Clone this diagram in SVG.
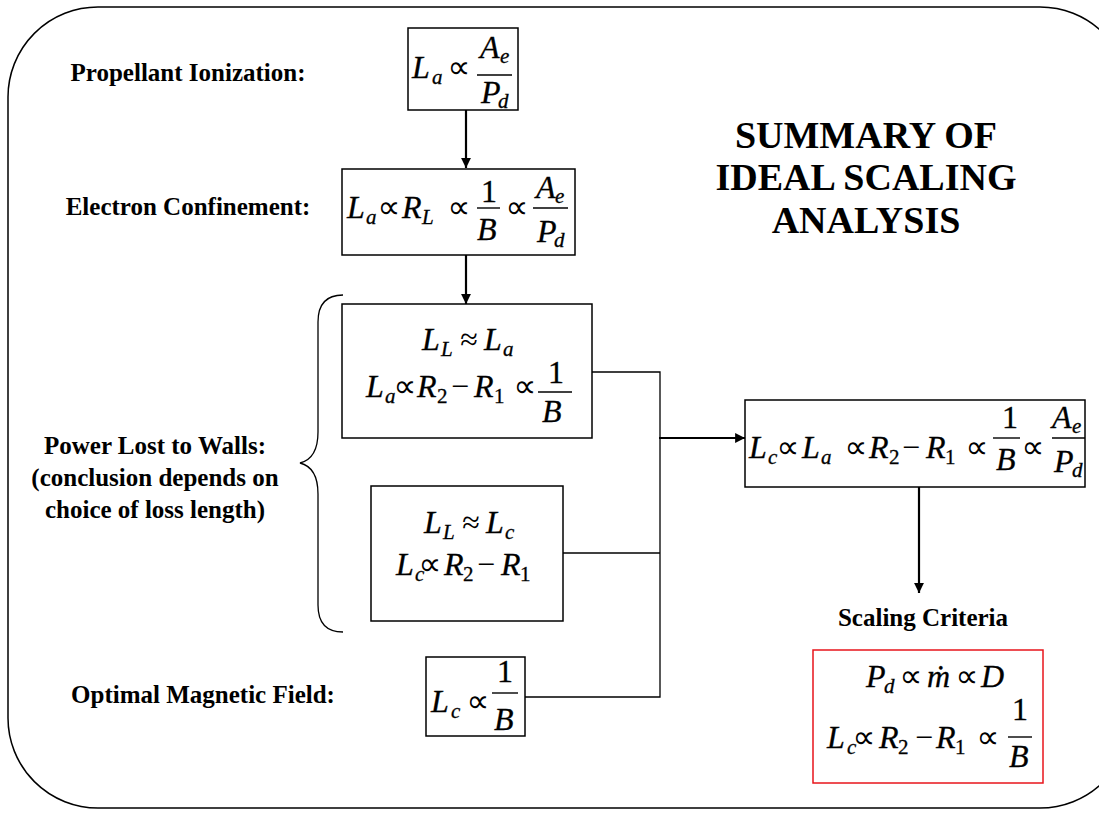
<svg xmlns="http://www.w3.org/2000/svg" width="1099" height="813" viewBox="0 0 1099 813">
<defs>
<marker id="ah" viewBox="0 0 10 10" refX="10" refY="5" markerWidth="4.5" markerHeight="4.5" markerUnits="strokeWidth" orient="auto">
<path d="M0,0 L10,5 L0,10 Z" fill="#000"/>
</marker>
</defs>
<style>
.frame{fill:none;stroke:#000;stroke-width:1.5}
.box{fill:#fff;stroke:#000;stroke-width:1.5}
.red{fill:#fff;stroke:#e8141b;stroke-width:1.5}
.ln{fill:none;stroke:#000;stroke-width:1.3}
.arr{fill:none;stroke:#000;stroke-width:2.2}
.bar{stroke:#000;stroke-width:1.4}
.m{font-family:"Liberation Serif","Times New Roman",serif;font-style:italic;font-size:32px;fill:#000;stroke:#000;stroke-width:0.3}
.s{font-size:21px}
.u{font-style:normal}
.op{font-family:"DejaVu Sans",sans-serif;font-style:normal;font-size:32px;fill:#000;text-anchor:middle}
.sym{font-family:"Liberation Serif","Times New Roman",serif;font-style:normal;font-size:32px;fill:#000;text-anchor:middle}
.lbl{font-family:"Liberation Serif","Times New Roman",serif;font-weight:bold;font-size:25px;fill:#000}
.title{font-family:"Liberation Serif","Times New Roman",serif;font-weight:bold;font-size:38px;fill:#000}
</style>
<rect class="frame" x="8" y="7" width="1122" height="801" rx="90" ry="90"/>

<g id="title">
<text class="title" x="866" y="148" text-anchor="middle">SUMMARY OF</text>
<text class="title" x="866" y="190" text-anchor="middle">IDEAL SCALING</text>
<text class="title" x="866" y="233" text-anchor="middle">ANALYSIS</text>
</g>

<g id="labels">
<text class="lbl" x="188" y="81" text-anchor="middle">Propellant Ionization:</text>
<text class="lbl" x="188" y="215" text-anchor="middle">Electron Confinement:</text>
<text class="lbl" x="155" y="454" text-anchor="middle">Power Lost to Walls:</text>
<text class="lbl" x="155" y="486" text-anchor="middle">(conclusion depends on</text>
<text class="lbl" x="155" y="518" text-anchor="middle">choice of loss length)</text>
<text class="lbl" x="203" y="703" text-anchor="middle">Optimal Magnetic Field:</text>
<text class="lbl" x="923" y="626" text-anchor="middle">Scaling Criteria</text>
</g>

<g id="brace">
<path class="ln" d="M343,295 C325,295 318,305 318,322 L318,432 C318,450 312,460 300,463 C312,466 318,476 318,494 L318,605 C318,622 325,632 343,632"/>
</g>

<g id="connectors">
<line class="arr" x1="466" y1="110" x2="466" y2="168" marker-end="url(#ah)"/>
<line class="arr" x1="466" y1="255" x2="466" y2="304" marker-end="url(#ah)"/>
<polyline class="ln" points="592,372 660,372 660,697 525,697"/>
<line class="ln" x1="563" y1="553" x2="660" y2="553"/>
<line class="arr" x1="659" y1="438" x2="745" y2="438" marker-end="url(#ah)"/>
<line class="arr" x1="919" y1="487" x2="919" y2="593" marker-end="url(#ah)"/>
</g>

<g id="n1">
<rect class="box" x="408" y="28" width="110" height="82"/>
<text class="m"><tspan x="412" y="78">L</tspan><tspan class="s" x="432" y="84">a</tspan><tspan x="480" y="58">A</tspan><tspan class="s" x="500" y="63">e</tspan><tspan x="481" y="103">P</tspan><tspan class="s" x="498" y="108">d</tspan></text>
<text class="op" x="459" y="78">∝</text>
<line class="bar" x1="477" y1="75" x2="512" y2="75"/>
</g>

<g id="n2">
<rect class="box" x="342" y="169" width="233" height="86"/>
<text class="m"><tspan x="347" y="218">L</tspan><tspan class="s" x="366" y="224">a</tspan><tspan x="402" y="218">R</tspan><tspan class="s" x="422" y="224">L</tspan><tspan class="u" x="481" y="202">1</tspan><tspan x="477" y="240">B</tspan><tspan x="536" y="198">A</tspan><tspan class="s" x="555" y="203">e</tspan><tspan x="537" y="242">P</tspan><tspan class="s" x="554" y="247">d</tspan></text>
<text class="op" y="218"><tspan x="389">∝</tspan><tspan x="459">∝</tspan><tspan x="517">∝</tspan></text>
<line class="bar" x1="477" y1="208" x2="500" y2="208"/>
<line class="bar" x1="533" y1="208" x2="568" y2="208"/>
</g>

<g id="n3">
<rect class="box" x="342" y="304" width="250" height="134"/>
<text class="m"><tspan x="422" y="350">L</tspan><tspan class="s" x="441" y="356">L</tspan><tspan x="484" y="350">L</tspan><tspan class="s" x="503" y="356">a</tspan></text>
<text class="sym" x="469" y="350">≈</text>
<text class="m"><tspan x="366" y="397">L</tspan><tspan class="s" x="385" y="403">a</tspan><tspan x="417" y="397">R</tspan><tspan class="s u" x="437" y="403">2</tspan><tspan x="474" y="397">R</tspan><tspan class="s u" x="494" y="403">1</tspan><tspan class="u" x="548" y="383">1</tspan><tspan x="542" y="422">B</tspan></text>
<text class="op" y="397"><tspan x="405">∝</tspan><tspan x="525">∝</tspan></text>
<text class="sym" x="460" y="397">−</text>
<line class="bar" x1="538" y1="392" x2="572" y2="392"/>
</g>

<g id="n4">
<rect class="box" x="371" y="486" width="192" height="135"/>
<text class="m"><tspan x="424" y="533">L</tspan><tspan class="s" x="443" y="539">L</tspan><tspan x="486" y="533">L</tspan><tspan class="s" x="505" y="539">c</tspan></text>
<text class="sym" x="471" y="533">≈</text>
<text class="m"><tspan x="396" y="575">L</tspan><tspan class="s" x="415" y="581">c</tspan><tspan x="444" y="575">R</tspan><tspan class="s u" x="463" y="581">2</tspan><tspan x="501" y="575">R</tspan><tspan class="s u" x="520" y="581">1</tspan></text>
<text class="op" x="430" y="575">∝</text>
<text class="sym" x="486" y="575">−</text>
</g>

<g id="n5">
<rect class="box" x="426" y="657" width="99" height="79"/>
<text class="m"><tspan x="431" y="712">L</tspan><tspan class="s" x="451" y="718">c</tspan><tspan class="u" x="497" y="682">1</tspan><tspan x="494" y="730">B</tspan></text>
<text class="op" x="478" y="712">∝</text>
<line class="bar" x1="492" y1="693" x2="518" y2="693"/>
</g>

<g id="n6">
<rect class="box" x="745" y="400" width="340" height="87"/>
<text class="m"><tspan x="749" y="458">L</tspan><tspan class="s" x="768" y="464">c</tspan><tspan x="802" y="458">L</tspan><tspan class="s" x="821" y="464">a</tspan><tspan x="869" y="458">R</tspan><tspan class="s u" x="889" y="464">2</tspan><tspan x="926" y="458">R</tspan><tspan class="s u" x="945" y="464">1</tspan><tspan class="u" x="1002" y="428">1</tspan><tspan x="996" y="470">B</tspan><tspan x="1052" y="428">A</tspan><tspan class="s" x="1072" y="433">e</tspan><tspan x="1054" y="472">P</tspan><tspan class="s" x="1072" y="477">d</tspan></text>
<text class="op" y="458"><tspan x="788">∝</tspan><tspan x="856">∝</tspan><tspan x="977">∝</tspan><tspan x="1033">∝</tspan></text>
<text class="sym" x="911" y="458">−</text>
<line class="bar" x1="993" y1="438" x2="1020" y2="438"/>
<line class="bar" x1="1052" y1="438" x2="1085" y2="438"/>
</g>

<g id="n7">
<rect class="red" x="813" y="650" width="230" height="133"/>
<text class="m"><tspan x="866" y="687">P</tspan><tspan class="s" x="884" y="693">d</tspan><tspan x="927" y="687">ṁ</tspan><tspan x="981" y="687">D</tspan></text>
<text class="op" y="687"><tspan x="911">∝</tspan><tspan x="967">∝</tspan></text>
<text class="m"><tspan x="827" y="748">L</tspan><tspan class="s" x="847" y="754">c</tspan><tspan x="879" y="748">R</tspan><tspan class="s u" x="898" y="754">2</tspan><tspan x="936" y="748">R</tspan><tspan class="s u" x="955" y="754">1</tspan><tspan class="u" x="1012" y="720">1</tspan><tspan x="1009" y="767">B</tspan></text>
<text class="op" y="748"><tspan x="864">∝</tspan><tspan x="988">∝</tspan></text>
<text class="sym" x="924" y="748">−</text>
<line class="bar" x1="1008" y1="737" x2="1032" y2="737"/>
</g>
</svg>
